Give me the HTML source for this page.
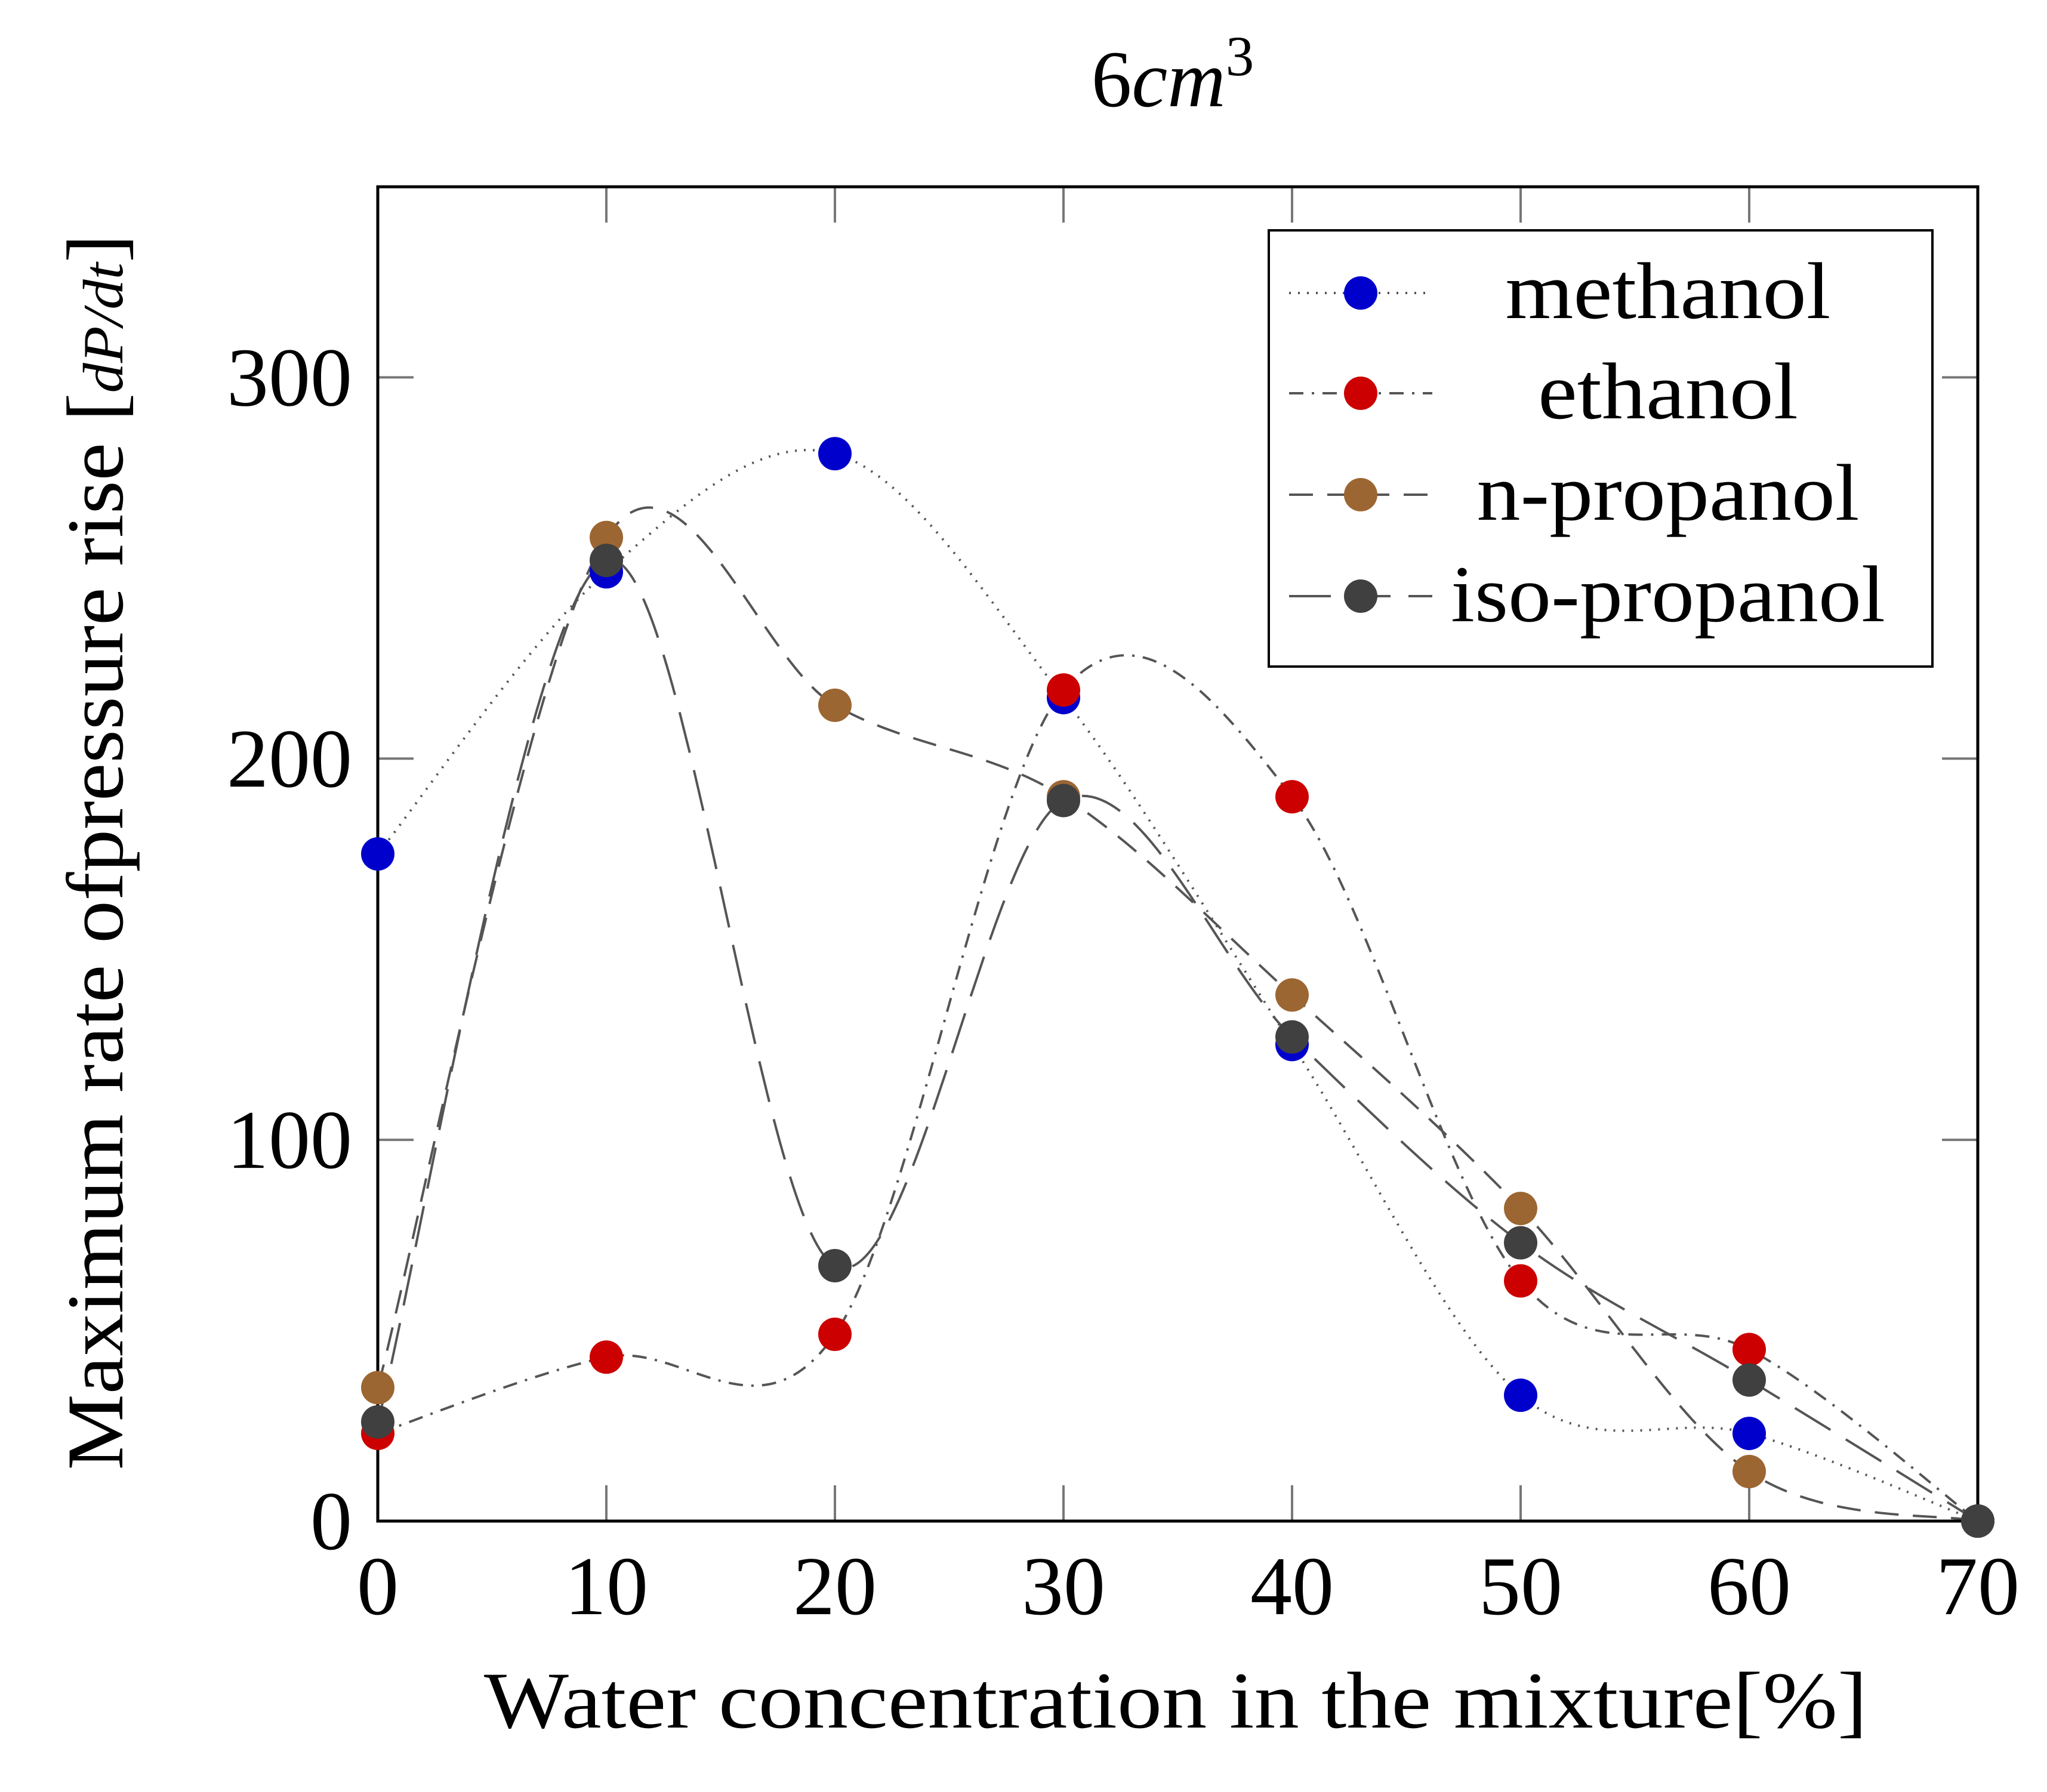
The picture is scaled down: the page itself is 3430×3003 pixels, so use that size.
<!DOCTYPE html>
<html><head><meta charset="utf-8">
<style>
html,body{margin:0;padding:0;background:#fff;}
svg{display:block;font-family:"Liberation Serif",serif;}
</style></head>
<body>
<svg id="chart" width="3430" height="3003" viewBox="0 0 3430 3003" xmlns="http://www.w3.org/2000/svg">
<text x="1965" y="178" font-size="135" text-anchor="middle">6<tspan font-style="italic">cm</tspan><tspan font-size="95" dy="-52">3</tspan></text>
<text x="1970" y="2895" font-size="135" text-anchor="middle" textLength="2318" lengthAdjust="spacingAndGlyphs">Water concentration in the mixture[%]</text>
<text transform="translate(205,1428) rotate(-90)" font-size="135" text-anchor="middle" textLength="2071" lengthAdjust="spacingAndGlyphs">Maximum rate ofpressure rise [<tspan font-style="italic" font-size="95">dP/dt</tspan>]</text>
<g id="ticks"></g>
<g id="series"></g>
<rect x="633" y="313" width="2681" height="2236" fill="none" stroke="#000" stroke-width="5"/>
<g id="markers"></g>
<g>
<rect x="2126" y="386" width="1112" height="731" fill="#fff" stroke="#000" stroke-width="4"/>
<g id="legend-entries"></g>
</g>
</svg>
<script>
const categories = [0,10,20,30,40,50,60,70];
const methanol = [175,249,280,216,125,33,23,0];
const ethanol = [23,43,49,218,190,63,45,0];
const npropanol = [35,258,214,190,138,82,13,0];
const isopropanol = [26,252,67,189,127,73,37,0];
const xTicks = [0,10,20,30,40,50,60,70];
const yTicks = [0,100,200,300];
const seriesNames = ["methanol","ethanol","n-propanol","iso-propanol"];
const legendWidths = [545,436,641,728];

const NS="http://www.w3.org/2000/svg";
const X0=633,X1=3314,Y0=2549,Y1=313;
function xs(v){return X0+(v-0)/70*(X1-X0);}
function ys(v){return Y0-(v-0)/350*(Y0-Y1);}
function mk(t,a){const e=document.createElementNS(NS,t);for(const k in a)e.setAttribute(k,a[k]);return e;}

const tg=document.getElementById('ticks');
xTicks.forEach(v=>{
  const t=mk('text',{x:xs(v),y:2705,'font-size':140,'text-anchor':'middle'});
  
  
  t.textContent=v;tg.appendChild(t);
  [[Y0,Y0-60],[Y1,Y1+60]].forEach(p=>{
    const l=mk('line',{x1:xs(v),x2:xs(v),y1:p[0],y2:p[1],stroke:'#777','stroke-width':4});
    
    
    tg.appendChild(l);});
});
yTicks.forEach(v=>{
  const t=mk('text',{x:590,y:ys(v)+47,'font-size':140,'text-anchor':'end'});
  
  
  t.textContent=v;tg.appendChild(t);
  [[X0,X0+60],[X1,X1-60]].forEach(p=>{
    const l=mk('line',{x1:p[0],x2:p[1],y1:ys(v),y2:ys(v),stroke:'#777','stroke-width':4});
    
    
    tg.appendChild(l);});
});

function smooth(vals){
  const p=vals.map((v,i)=>[xs(categories[i]),ys(v)]);
  let d='M'+p[0][0]+','+p[0][1];
  const k=0.33;
  for(let i=0;i<p.length-1;i++){
    const p0=p[Math.max(0,i-1)],p1=p[i],p2=p[i+1],p3=p[Math.min(p.length-1,i+2)];
    const c1=[p1[0]+(p2[0]-p0[0])*k/2,p1[1]+(p2[1]-p0[1])*k/2];
    const c2=[p2[0]-(p3[0]-p1[0])*k/2,p2[1]-(p3[1]-p1[1])*k/2];
    d+=' C'+c1[0]+','+c1[1]+' '+c2[0]+','+c2[1]+' '+p2[0]+','+p2[1];
  }
  return d;
}
const all=[methanol,ethanol,npropanol,isopropanol];
const colors=["#0000cc","#cc0000","#9c6632","#404040"];
const dashes=["3,12","24,14,4,14","40,24","70,30"];
const sg=document.getElementById('series'),mg=document.getElementById('markers');
all.forEach((vals,s)=>{
  const path=mk('path',{d:smooth(vals),fill:'none',stroke:'#555','stroke-width':4,'stroke-dasharray':dashes[s]});
  
  
  sg.appendChild(path);
});
all.forEach((vals,s)=>{
  vals.forEach((v,i)=>{
    const c=mk('circle',{cx:xs(categories[i]),cy:ys(v),r:28,fill:colors[s]});
    
    
    mg.appendChild(c);
  });
});
const lg=document.getElementById('legend-entries');
const ly=[491,659,829,999];
seriesNames.forEach((n,s)=>{
  const l=mk('line',{x1:2160,x2:2400,y1:ly[s],y2:ly[s],stroke:'#555','stroke-width':4,'stroke-dasharray':dashes[s]});
  
  
  lg.appendChild(l);
  const c=mk('circle',{cx:2280,cy:ly[s],r:28,fill:colors[s]});
  
  
  lg.appendChild(c);
  const t=mk('text',{x:2795,y:ly[s]+42,'font-size':135,'text-anchor':'middle',textLength:legendWidths[s],lengthAdjust:'spacingAndGlyphs'});
  
  
  t.textContent=n;lg.appendChild(t);
});
</script>
</body></html>
